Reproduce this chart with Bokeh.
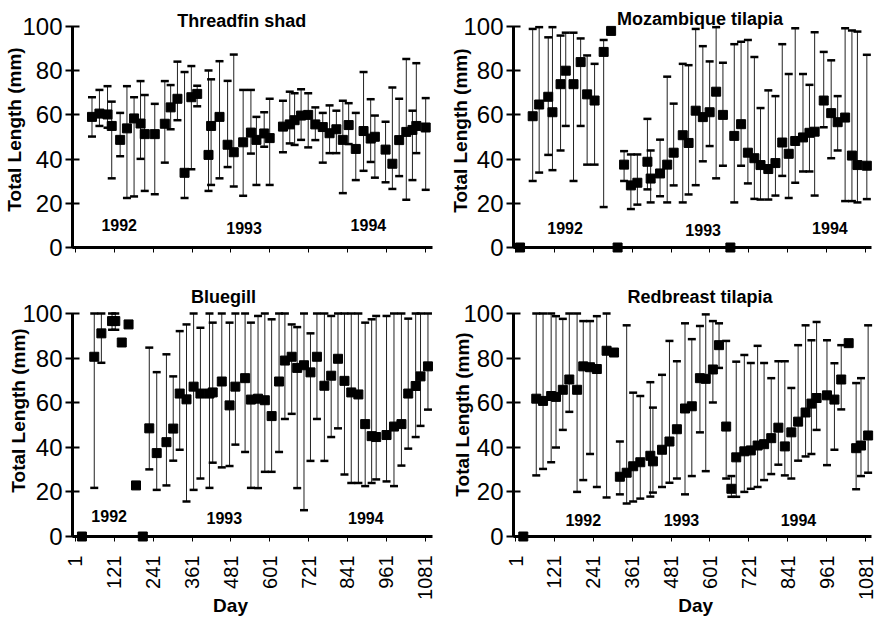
import math
from bokeh.plotting import figure
from bokeh.layouts import column, row
from bokeh.models import Range1d, FixedTicker, ColumnDataSource
from bokeh.core.properties import value
from bokeh.embed import file_html
from bokeh.resources import INLINE

FONT = "Liberation Sans"
DAY_TICKS = [1, 121, 241, 361, 481, 601, 721, 841, 961, 1081]
Y_TICKS = [0, 20, 40, 60, 80, 100]
YEARS = ["1992", "1993", "1994"]
N = None

# ---- Threadfin shad ----
shad_day = [52, 75, 100, 113, 139, 160, 182, 202, 215, 246, 277, 295, 316, 338, 359, 377,
            412, 420, 446, 471, 490, 519, 543, 560, 584, 601, 642, 663, 678, 698, 720, 742,
            765, 786, 807, 827, 845, 867, 891, 913, 926, 959, 980, 1001, 1023, 1042, 1054, 1083]
shad_mean = [59.1, 60.6, 60.2, 55.0, 48.7, 53.9, 58.4, 56.1, 51.3, 51.3, 56.0, 63.4, 67.3, 33.8, 68.0, 69.5,
             41.9, 55.0, 59.1, 46.5, 43.1, 47.6, 52.0, 48.7, 51.6, 49.5, 54.7, 55.7, 57.6, 59.7, 60.0, 55.7,
             54.5, 51.7, 53.5, 48.7, 55.4, 44.6, 52.7, 49.3, 50.1, 44.3, 37.9, 48.6, 52.3, 53.2, 55.0, 54.3]
shad_hi = [68.0, 71.3, 73.0, 66.0, 60.9, 73.0, 68.0, 75.3, 69.0, 65.0, 75.3, 73.5, 84.1, 79.4, 82.1, 73.2,
           80.1, 76.1, 84.3, 75.4, 87.3, 71.3, 71.3, 59.1, 61.2, 67.3, 66.4, 70.5, 69.8, 71.6, 69.8, 63.4,
           60.9, 64.3, 61.9, 66.4, 65.3, 60.9, 79.4, 67.1, 59.7, 56.9, 72.4, 67.3, 85.3, 61.9, 83.4, 67.6]
shad_lo = [50.2, 55.0, 54.2, 31.3, 41.3, 22.4, 23.1, 40.1, 25.6, 24.1, 38.4, 53.5, 57.6, 22.4, 35.4, 63.9,
           25.6, 28.3, 31.3, 36.4, 27.6, 23.4, 42.5, 28.3, 45.6, 28.3, 43.1, 47.1, 46.4, 48.7, 45.3, 48.6,
           38.4, 42.7, 42.7, 24.6, 46.8, 30.5, 34.7, 38.7, 31.6, 29.5, 26.5, 32.3, 21.6, 30.5, 42.7, 26.1]

# ---- Mozambique tilapia ----
moz_day = [15, 54, 74, 102, 115, 140, 156, 180, 202, 222, 245, 273, 296, 316, 336, 357, 377, 408, 418, 447,
           469, 489, 517, 535, 557, 579, 600, 620, 641, 664, 676, 697, 718, 738, 757, 781, 803, 824, 844, 864,
           888, 908, 924, 952, 975, 995, 1018, 1039, 1056, 1085]
moz_mean = [0, 59.4, 64.7, 68.2, 61.2, 73.9, 80.0, 73.9, 83.9, 69.3, 66.5, 88.5, 98.0, 0, 37.5, 28.1, 29.3, 38.8, 31.2, 33.5,
            37.5, 42.9, 50.8, 47.3, 61.9, 59.0, 61.2, 70.5, 60.0, 0, 50.5, 55.8, 42.9, 40.4, 37.3, 35.5, 38.2, 47.5, 42.4, 48.2,
            49.8, 51.9, 52.4, 66.5, 60.8, 56.7, 58.8, 41.6, 37.3, 37.0]
moz_hi = [N, 98.9, 99.7, 95.1, 99.7, 95.9, 97.2, 97.2, 94.6, 86.9, 83.1, 93.9, N, N, 43.6, 42.1, 42.1, 58.2, 43.9, 48.8,
          77.3, 65.1, 83.1, 82.5, 98.9, 91.1, 84.2, 99.7, 83.6, N, 92.0, 93.1, 93.9, 86.2, 63.1, 71.1, 68.5, 92.0, 78.5, 99.2,
          78.5, 73.6, 97.4, 88.5, 84.7, 68.5, 99.2, 98.2, 97.7, 87.2]
moz_lo = [N, 30.1, 33.9, 41.9, 35.0, 43.9, 55.0, 30.1, 55.0, 37.5, 37.5, 18.3, N, N, 30.1, 17.4, 19.4, 26.3, 20.4, 23.2,
          20.4, 28.1, 20.4, 24.0, 28.2, 39.0, 45.9, 31.3, 37.0, N, 20.4, 37.0, 29.0, 22.0, 21.7, 21.7, 23.5, 32.4, 22.4, 29.3,
          34.4, 34.4, 23.5, 54.4, 40.4, 43.9, 21.0, 21.0, 20.4, 21.9]

# ---- Bluegill ----
blue_day = [21, 59, 81, 114, 124, 144, 165, 188, 209, 229, 252, 282, 303, 323, 344, 366, 387, 415, 425, 453,
            477, 495, 525, 543, 565, 586, 607, 630, 648, 669, 686, 707, 727, 747, 770, 791, 812, 832, 853, 875,
            896, 916, 930, 962, 985, 1008, 1029, 1052, 1067, 1090]
blue_mean = [0, 80.6, 91.1, 96.6, 96.6, 87.0, 95.1, 22.9, 0, 48.5, 37.4, 42.3, 48.4, 64.1, 61.5, 67.2, 64.1, 64.1, 64.6, 69.5,
             58.8, 67.2, 71.0, 61.4, 61.8, 61.1, 54.0, 69.5, 78.9, 80.6, 75.6, 76.8, 73.6, 80.6, 67.6, 72.1, 79.7, 69.8, 64.6, 63.7,
             50.4, 45.0, 44.6, 45.5, 49.3, 50.4, 64.1, 67.5, 71.8, 76.3]
blue_hi = [N, 100, 100, 100, 100, N, N, N, N, 84.7, 73.7, 81.7, 71.8, 92.1, 95.1, 100, 93.6, 100, 95.9, 100,
           95.9, 100, 100, 95.9, 98.9, 100, 97.4, 100, 100, 95.1, 93.9, 100, 91.1, 100, 100, 98.9, 100, 100, 100, 100,
           95.9, 97.4, 98.9, 98.9, 100, 100, 97.7, 100, 100, 100]
blue_lo = [N, 21.8, 77.9, 92.7, 92.7, N, N, N, N, 30.1, 20.9, 22.9, 34.0, 38.9, 15.7, 20.9, 26.0, 21.8, 33.1, 31.0,
           31.6, 41.2, 37.9, 21.8, 21.7, 29.0, 29.0, 37.9, 52.7, 55.0, 21.7, 11.8, 33.9, 52.7, 33.9, 44.6, 48.5, 27.8, 24.0, 24.0,
           22.6, 24.0, 25.6, 24.7, 22.6, 31.8, 39.4, 44.6, 49.6, 56.9]

# ---- Redbreast tilapia ----
red_day = [25, 65, 86, 111, 126, 147, 167, 191, 210, 231, 252, 282, 305, 323, 344, 364, 386, 417, 425, 453,
           476, 499, 524, 545, 570, 588, 610, 629, 651, 667, 682, 707, 727, 748, 768, 790, 812, 832, 852, 873,
           896, 914, 930, 962, 985, 1006, 1029, 1052, 1067, 1089]
red_mean = [0, 61.8, 60.8, 63.0, 62.6, 65.8, 70.4, 65.8, 76.3, 75.9, 75.1, 83.3, 82.5, 26.8, 28.6, 31.5, 33.3, 36.2, 33.7, 38.9,
            42.6, 48.1, 57.4, 58.4, 71.0, 70.7, 74.9, 85.8, 49.3, 21.4, 35.5, 38.2, 38.6, 40.8, 41.4, 44.1, 48.8, 40.4, 46.7, 51.5,
            55.6, 59.6, 62.1, 63.3, 61.4, 70.4, 86.7, 39.6, 40.8, 45.3]
red_hi = [N, 100, 100, 100, 98.8, 97.6, 100, 100, 96.6, 96.6, 98.8, 100, N, 42.6, 94.7, 64.5, 63.0, 69.2, 57.8, 72.5,
          87.7, 78.6, 95.6, 88.5, 94.4, 99.6, 96.6, 95.6, 87.7, 27.1, 78.4, 81.4, 77.8, 85.5, 77.8, 71.0, 78.6, 78.6, 66.6, 85.8,
          94.7, 88.0, 96.2, 88.0, 77.7, 85.8, N, 68.8, 71.0, 94.7]
red_lo = [N, 27.4, 30.3, 33.3, 39.9, 47.8, 55.9, 20.0, 25.3, 37.0, 22.2, 17.5, N, 18.9, 14.8, 15.7, 17.0, 17.9, 19.7, 22.2,
          24.1, 26.0, 18.9, 27.1, 46.7, 29.3, 60.1, 75.6, 26.0, 17.8, 17.8, 20.0, 21.4, 22.2, 25.3, 28.0, 32.2, 27.4, 26.0, 34.0,
          35.9, 37.0, 47.8, 32.0, 38.9, 57.0, N, 21.2, 27.1, 28.6]


def nan(v):
    return [float("nan") if a is None else a for a in v]


def txt(p, x, y, s, size, angle=0.0):
    p.text(x=[x], y=[y], text=[s], text_font=value(FONT), text_font_size=value(size),
           text_font_style=value("bold"), text_color="black", text_align=value("center"),
           text_baseline=value("middle"), angle=angle, level="overlay")


def panel(title, days, mean, hi, lo, geo, xr, title_pos, ylab_pos, year_pos, day_pos=None):
    bl, br, bt, bb, fw, fh = geo
    p = figure(frame_width=fw, frame_height=fh, min_border_left=bl, min_border_right=br,
               min_border_top=bt, min_border_bottom=bb, x_range=Range1d(*xr), y_range=Range1d(0, 100),
               output_backend="svg", toolbar_location=None, tools="")
    p.outline_line_color = None
    p.xgrid.visible = False
    p.ygrid.visible = False
    p.background_fill_color = "white"
    p.border_fill_color = "white"

    yax = p.yaxis[0]
    yax.ticker = FixedTicker(ticks=Y_TICKS)
    yax.minor_tick_line_color = None
    yax.major_tick_in = 7
    yax.major_tick_out = 7
    yax.major_tick_line_width = 2
    yax.axis_line_width = 3
    yax.major_label_standoff = 3
    yax.major_label_text_font = FONT
    yax.major_label_text_font_size = "24px"
    yax.major_label_text_color = "black"

    xax = p.xaxis[0]
    xax.ticker = FixedTicker(ticks=DAY_TICKS)
    xax.minor_tick_line_color = None
    xax.major_tick_in = 0
    xax.major_tick_out = 5
    xax.major_tick_line_width = 1
    xax.axis_line_width = 3
    if day_pos is None:
        xax.major_label_overrides = {t: "" for t in DAY_TICKS}
    else:
        xax.major_label_orientation = math.pi / 2
        xax.major_label_standoff = 14
        xax.major_label_text_font = FONT
        xax.major_label_text_font_size = "20px"
        xax.major_label_text_color = "black"

    src = ColumnDataSource(dict(day=days, mean=mean, hi=nan(hi), lo=nan(lo)))
    p.segment(x0="day", y0="lo", x1="day", y1="hi", source=src, line_color="#222222",
              line_width=1, level="overlay")
    p.scatter(x="day", y="hi", source=src, marker="dash", size=8, line_color="black",
              line_width=2.5, level="overlay")
    p.scatter(x="day", y="lo", source=src, marker="dash", size=8, line_color="black",
              line_width=2.5, level="overlay")
    p.scatter(x="day", y="mean", source=src, marker="square", size=9, fill_color="black",
              line_color="black", level="overlay")

    txt(p, title_pos[0], title_pos[1], title, "18px")
    txt(p, ylab_pos[0], ylab_pos[1], "Total Length (mm)", "19px", math.pi / 2)
    for (xd, yd), yr in zip(year_pos, YEARS):
        txt(p, xd, yd, yr, "16px")
    if day_pos is not None:
        txt(p, day_pos[0], day_pos[1], "Day", "19px")
    return p


# geometry: (border_left, border_right, border_top, border_bottom, frame_w, frame_h)
p1 = panel("Threadfin shad", shad_day, shad_mean, shad_hi, shad_lo,
           (72, 5, 26, 39, 360, 221), (-8.2, 1104), (515, 102.7), (-186, 53.4),
           [(136, 10.0), (522, 8.6), (906, 10.4)])
p2 = panel("Mozambique tilapia", moz_day, moz_mean, moz_hi, moz_lo,
           (76, 5, 26, 39, 358, 221), (-5.2, 1099.4), (570, 103.6), (-168, 52.9),
           [(154, 9.0), (580, 8.1), (971, 9.0)])
p3 = panel("Bluegill", blue_day, blue_mean, blue_hi, blue_lo,
           (72, 5, 27, 84, 360, 223), (-8.2, 1104), (458, 107.2), (-175, 56.5),
           [(105, 9.3), (461, 8.2), (898, 8.2)], day_pos=(480, -30.9))
p4 = panel("Redbreast tilapia", red_day, red_mean, red_hi, red_lo,
           (76, 5, 27, 84, 358, 223), (-5.2, 1099.4), (570, 107.2), (-162, 54.7),
           [(210, 7.5), (513, 7.5), (874, 7.5)], day_pos=(557, -30.9))

layout = column(row(p1, p2), row(p3, p4))
open("out.html", "w").write(file_html(layout, INLINE))
